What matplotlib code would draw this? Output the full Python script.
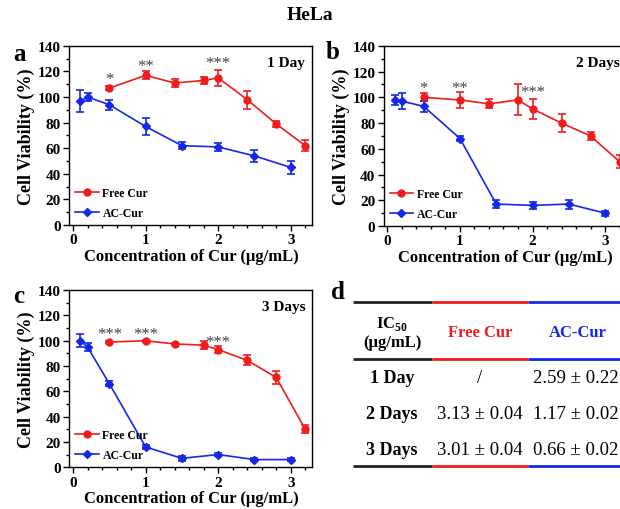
import matplotlib
matplotlib.use("Agg")
import matplotlib.pyplot as plt
from matplotlib.ticker import MultipleLocator

plt.rcParams['font.family'] = ['Liberation Serif', 'DejaVu Serif']
plt.rcParams['font.weight'] = 'bold'
plt.rcParams['mathtext.fontset'] = 'custom'
plt.rcParams['mathtext.bf'] = 'Liberation Serif:bold'
plt.rcParams['mathtext.rm'] = 'Liberation Serif:bold'

RED = '#f01c1c'
BLUE = '#1428e6'

# concentrations (ug/mL)
free_x = [0.5, 1.0, 1.4, 1.8, 2.0, 2.4, 2.8, 3.2]
ac_x = [0.1, 0.2, 0.5, 1.0, 1.5, 2.0, 2.5, 3.0]

# 1 Day
free_1d = [107, 117, 111, 113, 115, 98, 79, 62]
free_1d_err = [1.5, 3, 3.5, 2.5, 6.5, 7, 2.5, 4.5]
ac_1d = [97, 100, 94, 77, 62, 61, 54, 45]
ac_1d_err = [8.5, 3, 4, 6.5, 2.5, 3, 4.5, 5]

# 2 Days
free_2d = [100, 98, 95, 98, 91, 80, 70, 50]
free_2d_err = [3, 6, 3.5, 12, 8, 7, 3, 5]
ac_2d = [98, 97, 93, 68, 17, 16, 17, 10]
ac_2d_err = [4, 6, 4, 2, 3, 3, 3.5, 2]

# 3 Days
free_3d = [99, 100, 97.5, 96.5, 93, 84.5, 71, 30]
free_3d_err = [1, 1, 1, 3, 3, 4, 5, 3]
ac_3d = [100, 95, 66, 16, 7, 10, 6, 6]
ac_3d_err = [5, 3, 2, 1.5, 2, 1.5, 1, 1]

# significance marks
stars_1d = [(0.5, 108, '*'), (1.0, 118, '**'), (2.0, 120, '***')]
stars_2d = [(0.5, 101, '*'), (1.0, 101, '**'), (2.0, 98, '***')]
stars_3d = [(0.5, 99, '***'), (1.0, 99, '***'), (2.0, 93, '***')]

# IC50 table
table_rows = ['1 Day', '2 Days', '3 Days']
ic50_free = ['/', '3.13 \u00b1 0.04', '3.01 \u00b1 0.04']
ic50_ac = ['2.59 \u00b1 0.22', '1.17 \u00b1 0.02', '0.66 \u00b1 0.02']


def draw_panel(ax, fx, fy, fe, axx, ay, ae, stars, day_label):
    free = ax.errorbar(fx, fy, yerr=fe, color=RED, marker='o', markersize=5,
                       linewidth=1.2, elinewidth=1.2, capsize=3, capthick=1.2)
    ac = ax.errorbar(axx, ay, yerr=ae, color=BLUE, marker='D', markersize=4.5,
                     linewidth=1.2, elinewidth=1.2, capsize=3, capthick=1.2)
    for sx, sy, s in stars:
        ax.text(sx, sy, s, ha='center', va='bottom', fontsize=12,
                fontweight='normal', color='#444444')
    ax.text(0.97, 0.91, day_label, transform=ax.transAxes, ha='right',
            va='center', fontsize=11)
    ax.set_xlim(-0.05, 3.3)
    ax.set_ylim(0, 140)
    ax.xaxis.set_major_locator(MultipleLocator(1))
    ax.xaxis.set_minor_locator(MultipleLocator(0.2))
    ax.yaxis.set_major_locator(MultipleLocator(20))
    ax.yaxis.set_minor_locator(MultipleLocator(10))
    ax.tick_params(which='both', direction='out', top=False, right=False,
                   labelsize=11, width=1, pad=2)
    ax.tick_params(which='major', length=4)
    ax.tick_params(which='minor', length=2.5)
    for lab in ax.get_xticklabels() + ax.get_yticklabels():
        lab.set_fontweight('bold')
    for sp in ax.spines.values():
        sp.set_linewidth(1)
    ax.set_xlabel('Concentration of Cur (\u03bcg/mL)', fontsize=12,
                  fontweight='bold', labelpad=1)
    ax.set_ylabel('Cell Viability (%)', fontsize=13, fontweight='bold',
                  labelpad=2)
    leg = ax.legend([free[0], ac[0]], ['Free Cur', 'AC-Cur'],
                    loc='lower left', frameon=False, fontsize=8.5,
                    handlelength=2.0, handletextpad=0.3, labelspacing=0.7,
                    borderaxespad=0.3, borderpad=0.2)
    for t in leg.get_texts():
        t.set_fontweight('bold')


fig = plt.figure(figsize=(6.2, 5.1), dpi=100)

ax_a = fig.add_axes([0.112, 0.557, 0.392, 0.351])
ax_b = fig.add_axes([0.619, 0.555, 0.392, 0.353])
ax_c = fig.add_axes([0.112, 0.082, 0.392, 0.347])

draw_panel(ax_a, free_x, free_1d, free_1d_err, ac_x, ac_1d, ac_1d_err,
           stars_1d, '1 Day')
draw_panel(ax_b, free_x, free_2d, free_2d_err, ac_x, ac_2d, ac_2d_err,
           stars_2d, '2 Days')
draw_panel(ax_c, free_x, free_3d, free_3d_err, ac_x, ac_3d, ac_3d_err,
           stars_3d, '3 Days')

fig.text(0.5, 0.97, 'HeLa', ha='center', va='center', fontsize=14)
fig.text(0.032, 0.893, 'a', ha='center', va='center', fontsize=18)
fig.text(0.537, 0.898, 'b', ha='center', va='center', fontsize=18)
fig.text(0.030, 0.418, 'c', ha='center', va='center', fontsize=18)
fig.text(0.545, 0.427, 'd', ha='center', va='center', fontsize=18)

# panel d: table drawn in pixel coordinates
ax_d = fig.add_axes([0, 0, 1, 1])
ax_d.set_xlim(0, 620)
ax_d.set_ylim(510, 0)
ax_d.axis('off')
col_spans = [(353, 432, '#222222'), (432, 528, RED), (528, 640, BLUE)]
for y_line in (303, 360, 467):
    for x0, x1, c in col_spans:
        ax_d.plot([x0, x1], [y_line, y_line], color=c, linewidth=2,
                  solid_capstyle='butt')
ax_d.text(392, 324, r'IC$_{\mathbf{50}}$', ha='center', va='center',
          fontsize=12)
ax_d.text(392, 343, '(\u03bcg/mL)', ha='center', va='center', fontsize=12)
ax_d.text(480, 333, 'Free Cur', ha='center', va='center', fontsize=12,
          color=RED)
ax_d.text(578, 333, 'AC-Cur', ha='center', va='center', fontsize=12,
          color=BLUE)
for i, row in enumerate(table_rows):
    y = 379 + i * 36
    ax_d.text(392, y, row, ha='center', va='center', fontsize=13)
    ax_d.text(480, y, ic50_free[i], ha='center', va='center', fontsize=13.5,
              fontweight='normal')
    ax_d.text(533, y, ic50_ac[i], ha='left', va='center', fontsize=13.5,
              fontweight='normal')

fig.savefig('out.png', dpi=100)
